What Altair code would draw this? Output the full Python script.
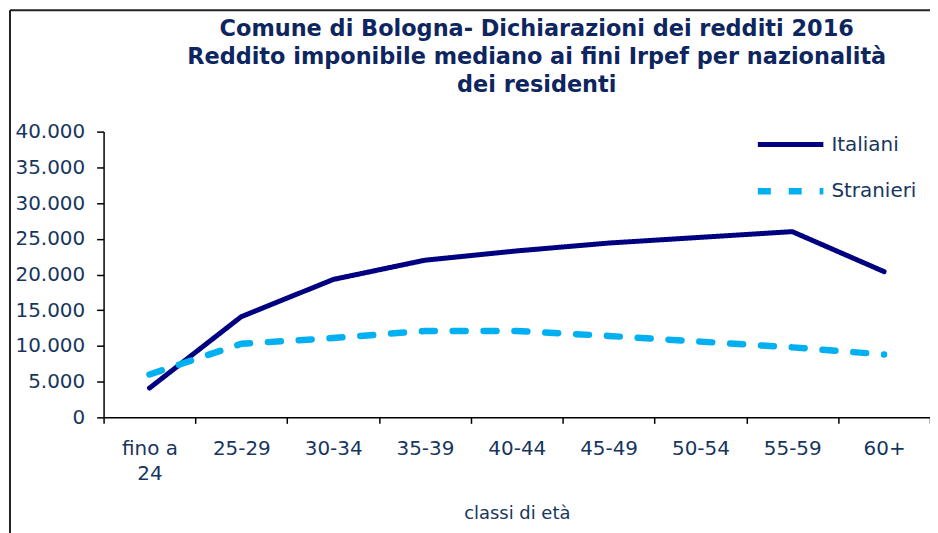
import altair as alt
import pandas as pd

categories = ["fino a 24", "25-29", "30-34", "35-39", "40-44", "45-49", "50-54", "55-59", "60+"]
italiani = [4100, 14100, 19300, 22000, 23300, 24400, 25200, 26000, 20400]
stranieri = [6000, 10300, 11100, 12100, 12100, 11400, 10600, 9800, 8800]
series_names = ["Italiani", "Stranieri"]

rows = []
for c, v in zip(categories, italiani):
    rows.append({"classe": c, "valore": v, "serie": "Italiani"})
for c, v in zip(categories, stranieri):
    rows.append({"classe": c, "valore": v, "serie": "Stranieri"})
df = pd.DataFrame(rows)

TXT = "#17365D"
FONT = "DejaVu Sans"

base = alt.Chart(df)

lines = base.mark_line(strokeCap="round", strokeJoin="round").encode(
    x=alt.X("classe:N", sort=categories,
            scale=alt.Scale(paddingInner=0, paddingOuter=0),
            axis=alt.Axis(title="classi di età", labelAngle=0, tickBand="extent",
                          labelExpr="datum.label == 'fino a 24' ? ['fino a', '24'] : datum.label",
                          labelLineHeight=25, labelPadding=15, tickSize=6,
                          titlePadding=22, labelFontSize=20, titleFontSize=18)),
    y=alt.Y("valore:Q", scale=alt.Scale(domain=[0, 40000]),
            axis=alt.Axis(title=None, values=list(range(0, 40001, 5000)),
                          labelExpr="replace(format(datum.value, ','), ',', '.')",
                          grid=False, tickSize=7, labelPadding=12, labelFontSize=20)),
    color=alt.Color("serie:N", scale=alt.Scale(domain=series_names, range=["#000080", "#00B0F0"]),
                    legend=alt.Legend(title=None, orient="none", legendX=663, legendY=-13,
                                      symbolType="M-1.4,0L1.4,0", symbolSize=2209,
                                      symbolStrokeWidth=5, labelFontSize=20, labelColor=TXT,
                                      labelFont=FONT, labelOffset=14, rowPadding=10)),
    strokeDash=alt.StrokeDash("serie:N", scale=alt.Scale(domain=series_names, range=[[1, 0], [13, 18]]),
                              legend=None),
    strokeWidth=alt.StrokeWidth("serie:N", scale=alt.Scale(domain=series_names, range=[5, 6.5]),
                                legend=None),
)

frame = alt.Chart(pd.DataFrame({"k": [0]})).mark_rule(color="#222222", strokeWidth=2).encode(
    x=alt.value(-94), y=alt.value(-122), y2=alt.value(440)
)
frame_top = alt.Chart(pd.DataFrame({"k": [0]})).mark_rule(color="#222222", strokeWidth=2).encode(
    x=alt.value(-94), x2=alt.value(900), y=alt.value(-122)
)

chart = alt.layer(lines, frame, frame_top).properties(
    width=830, height=287,
    autosize=alt.AutoSizeParams(type="none"),
    padding={"left": 96, "top": 123, "right": 0, "bottom": 118},
    title=alt.TitleParams(
        ["Comune di Bologna- Dichiarazioni dei redditi 2016",
         "Reddito imponibile mediano ai fini Irpef per nazionalità",
         "dei residenti"],
        fontSize=22.5, font=FONT, fontWeight="bold", color="#0E2660",
        lineHeight=28.5, offset=0, dy=88, anchor="middle", dx=20),
).configure_view(stroke=None).configure_axis(
    domainColor="#000000", tickColor="#000000", domainWidth=1.5, tickWidth=1.5,
    labelColor=TXT, titleColor=TXT, labelFont=FONT, titleFont=FONT, titleFontWeight="normal"
)

chart.save("out.html", embed_options={"renderer": "svg", "actions": False})
